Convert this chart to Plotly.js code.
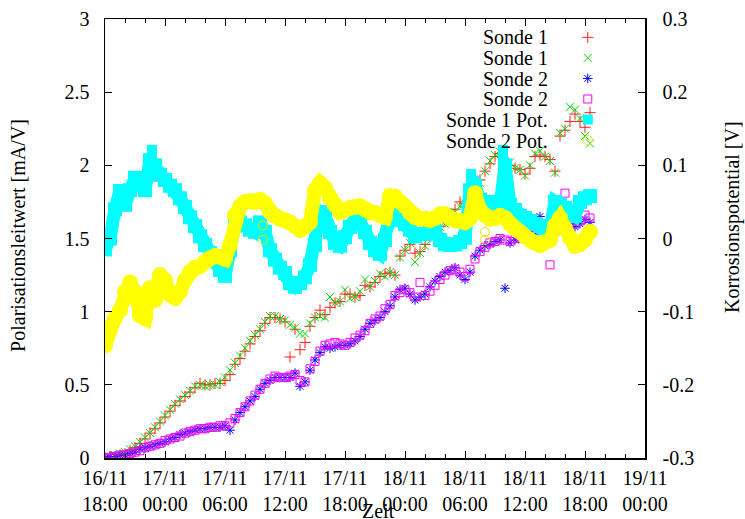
<!DOCTYPE html>
<html><head><meta charset="utf-8">
<script src="https://cdn.plot.ly/plotly-3.0.1.min.js"></script>
<style>html,body{margin:0;padding:0;background:#fff}#chart{width:745px;height:519px}</style>
</head><body><div id="chart"></div>
<script>
// Sampling grid: start time and step (minutes)
const startUTC = Date.UTC(2010, 10, 16, 18, 0);
const endUTC = Date.UTC(2010, 10, 19, 0, 0);
const stepMinutes = 30;

// Polarisationsleitwert [mA/V]
const sonde1Red = [0.00,0.01,0.01,0.02,0.03,0.05,0.07,0.10,0.13,0.17,
 0.20,0.24,0.28,0.32,0.36,0.39,0.42,0.45,0.48,0.51,
 0.50,0.50,0.51,0.51,0.53,0.57,0.64,0.68,0.73,0.78,
 0.83,0.87,0.92,0.96,0.96,0.95,0.93,0.69,0.88,0.74,
 0.79,0.90,0.96,1.01,0.98,1.03,1.06,1.07,1.12,1.12,
 1.10,1.11,1.18,1.17,1.20,1.24,1.26,1.27,1.25,1.38,
 1.42,1.46,1.40,1.41,1.46,1.51,1.55,1.58,1.62,1.65,
 1.70,1.75,1.74,1.78,1.82,1.90,1.96,2.01,2.06,2.08,
 1.90,2.00,1.98,1.97,1.94,1.98,2.06,2.07,2.06,2.04,
 1.96,2.20,2.24,2.30,2.35,2.30,2.26,2.36];
const sonde1Green = [0.00,0.01,0.02,0.03,0.04,0.06,0.08,0.11,0.14,0.17,
 0.21,0.25,0.29,0.33,0.37,0.40,0.43,0.46,0.49,0.50,
 0.49,0.50,0.50,0.52,0.55,0.60,0.65,0.70,0.75,0.80,
 0.84,0.88,0.93,0.97,0.97,0.95,0.94,0.91,0.89,0.85,
 0.85,0.92,0.96,0.97,0.96,1.10,1.06,1.07,1.15,1.09,
 1.10,1.14,1.22,1.17,1.21,1.26,1.24,1.27,1.25,1.37,
 1.42,1.47,1.34,1.40,1.45,1.51,1.56,1.58,1.60,1.64,
 1.68,1.72,1.74,1.78,1.80,1.88,1.96,2.03,2.07,2.09,
 2.03,2.02,1.98,1.97,1.93,2.00,2.08,2.10,2.06,2.03,
 1.95,2.22,2.25,2.40,2.38,2.32,2.20,2.15];
const sonde2Blue = [0.00,0.01,0.01,0.02,0.02,0.03,0.04,0.06,0.07,0.08,
 0.09,0.10,0.11,0.13,0.14,0.16,0.17,0.18,0.19,0.20,
 0.20,0.21,0.21,0.21,0.22,0.19,0.26,0.31,0.35,0.39,
 0.42,0.47,0.51,0.53,0.55,0.55,0.55,0.55,0.58,0.49,
 0.52,0.60,0.67,0.72,0.76,0.75,0.76,0.77,0.77,0.78,
 0.80,0.83,0.88,0.92,0.94,0.96,1.00,1.04,1.10,1.15,
 1.16,1.12,1.08,1.10,1.12,1.17,1.21,1.24,1.27,1.28,
 1.30,1.25,1.22,1.27,1.38,1.42,1.45,1.46,1.48,1.49,
 1.16,1.47,1.49,1.50,1.51,1.52,1.53,1.65,1.60,1.55,
 1.56,1.58,1.60,1.60,1.58,1.60,1.63,1.61];
const sonde2Magenta = [0.00,0.00,0.01,0.02,0.02,0.03,0.04,0.05,0.07,0.08,
 0.09,0.10,0.12,0.13,0.14,0.15,0.17,0.18,0.19,0.20,
 0.20,0.21,0.21,0.22,0.22,0.24,0.27,0.31,0.35,0.39,
 0.43,0.47,0.51,0.54,0.56,0.55,0.55,0.56,0.57,0.53,
 0.52,0.61,0.66,0.73,0.77,0.78,0.79,0.78,0.77,0.79,
 0.82,0.84,0.87,0.92,0.95,0.97,1.02,1.05,1.11,1.13,
 1.15,1.13,1.10,1.20,1.11,1.14,1.18,1.22,1.25,1.28,
 1.29,1.27,1.24,1.29,1.36,1.41,1.44,1.47,1.48,1.50,
 1.49,1.48,1.50,1.51,1.52,1.52,1.54,1.57,1.60,1.32,
 1.55,1.57,1.81,1.62,1.60,1.62,1.66,1.64];

// Korrosionspotential [V]
const sonde1Pot = [-0.015,0.000,0.040,0.065,0.046,0.066,0.083,0.073,0.066,0.107,
 0.100,0.087,0.080,0.072,0.066,0.055,0.043,0.029,0.017,0.003,
 -0.009,-0.020,-0.031,-0.043,-0.051,-0.016,0.018,0.022,0.018,0.012,
 0.009,0.022,0.009,-0.016,-0.029,-0.040,-0.047,-0.061,-0.066,-0.061,
 -0.053,-0.036,-0.009,0.036,0.031,0.009,-0.006,-0.010,0.002,0.016,
 0.028,0.022,0.009,-0.006,-0.016,-0.021,-0.002,0.028,0.033,0.025,
 0.020,0.012,0.003,0.006,0.006,0.010,0.009,-0.002,-0.008,-0.009,
 -0.008,-0.005,0.001,0.066,0.072,0.053,0.048,0.050,0.046,0.043,
 0.100,0.046,0.039,0.031,0.028,0.024,0.020,0.017,0.014,0.012,
 0.050,0.046,0.042,0.033,0.031,0.050,0.055,0.058];
const sonde1PotSpikeHours = [4.7, 4.7, 36.6, 36.6, 39.8, 39.8, 39.8, 39.8];
const sonde1PotSpikeValues = [0.121, 0.110, 0.088, 0.076, 0.121, 0.108, 0.095, 0.082];
const sonde2Pot = [-0.146,-0.121,-0.109,-0.098,-0.073,-0.060,-0.073,-0.105,-0.109,-0.068,
 -0.084,-0.050,-0.057,-0.077,-0.081,-0.073,-0.057,-0.046,-0.040,-0.038,
 -0.032,-0.027,-0.024,-0.025,-0.028,-0.009,0.032,0.044,0.050,0.051,
 0.050,0.053,0.048,0.036,0.031,0.027,0.025,0.022,0.017,0.012,
 0.016,0.022,0.066,0.076,0.069,0.055,0.046,0.036,0.039,0.042,
 0.043,0.044,0.040,0.036,0.035,0.032,0.029,0.058,0.057,0.050,
 0.044,0.035,0.029,0.027,0.027,0.025,0.028,0.033,0.033,0.028,
 0.025,0.024,0.022,0.028,0.062,0.039,0.032,0.027,0.028,0.031,
 0.028,0.020,0.014,0.009,0.003,-0.002,-0.006,-0.009,-0.005,-0.002,
 0.018,0.028,0.014,0.001,-0.010,-0.008,-0.002,0.009];
const sonde2PotOpenHours = [15.8, 15.8, 38.0, 38.0];
const sonde2PotOpenValues = [0.018, -0.002, 0.009, -0.002];

// Labels
const legendLabels = ['Sonde 1', 'Sonde 1', 'Sonde 2', 'Sonde 2', 'Sonde 1 Pot.', 'Sonde 2 Pot.'];
const y2TickValues = [-0.3, -0.2, -0.1, 0, 0.1, 0.2, 0.3];
const y2TickLabels = ['-0.3', '-0.2', '-0.1', '0', '0.1', '0.2', '0.3'];

const HOUR = 3600000;
const toStr = ms => new Date(ms).toISOString().slice(0, 19).replace('T', ' ');
const times = sonde1Red.map((_, i) => toStr(startUTC + i * stepMinutes * 60000));
const hoursToStr = h => toStr(startUTC + h * HOUR);

const FONT = 'Liberation Serif';

function pts(y, symbol, size, color, extra) {
  return Object.assign({
    type: 'scatter', mode: 'markers', x: times, y: y, name: ' ',
    marker: { symbol: symbol, size: size, color: color, line: { color: color, width: 1 } },
    hoverinfo: 'skip'
  }, extra || {});
}

const traces = [
  pts(sonde1Red, 'cross-thin-open', 8, '#ff2020'),
  pts(sonde1Green, 'x-thin-open', 8, '#00dd00'),
  pts(sonde2Blue, 'asterisk-open', 8, '#0000ff'),
  pts(sonde2Magenta, 'square-open', 8, '#ff00ff'),
  {
    type: 'scatter', mode: 'lines+markers', name: ' ', yaxis: 'y2', hoverinfo: 'skip', showlegend: false,
    x: times, y: sonde1Pot,
    line: { color: '#00ffff', width: 13 },
    marker: { symbol: 'square', size: 14, color: '#00ffff', line: { width: 0 } }
  },
  {
    type: 'scatter', mode: 'markers', name: ' ', yaxis: 'y2', hoverinfo: 'skip',
    x: sonde1PotSpikeHours.map(hoursToStr), y: sonde1PotSpikeValues,
    marker: { symbol: 'square', size: 10, color: '#00ffff', line: { width: 0 } }
  },
  {
    type: 'scatter', mode: 'lines+markers', name: ' ', yaxis: 'y2', hoverinfo: 'skip', showlegend: false,
    x: times, y: sonde2Pot,
    line: { color: '#ffff00', width: 14 },
    marker: { symbol: 'circle', size: 16, color: '#ffff00', line: { width: 0 } }
  },
  {
    type: 'scatter', mode: 'markers', name: ' ', yaxis: 'y2', hoverinfo: 'skip',
    x: sonde2PotOpenHours.map(hoursToStr), y: sonde2PotOpenValues,
    marker: { symbol: 'circle-open', size: 9, color: '#e6e600', line: { color: '#e6e600', width: 1 } }
  }
];

const tickFont = { family: FONT, size: 20, color: '#000' };
const rowY = [0.959, 0.911, 0.864, 0.817, 0.770, 0.723];
const annotations = legendLabels.map((t, i) => ({
  text: t, xref: 'paper', yref: 'paper', x: 0.824, y: rowY[i],
  xanchor: 'right', yanchor: 'middle', showarrow: false, font: tickFont
})).concat([
  { text: 'Zeit', xref: 'paper', yref: 'paper', x: 0.506, y: -0.12, xanchor: 'center', yanchor: 'middle', showarrow: false, font: tickFont },
  { text: 'Polarisationsleitwert [mA/V]', xref: 'paper', yref: 'paper', x: -0.161, y: 0.506, xanchor: 'center', yanchor: 'middle', textangle: -90, showarrow: false, font: tickFont },
  { text: 'Korrosionspotential [V]', xref: 'paper', yref: 'paper', x: 1.163, y: 0.549, xanchor: 'center', yanchor: 'middle', textangle: -90, showarrow: false, font: tickFont }
]);

const layout = {
  width: 745, height: 519,
  margin: { l: 105, r: 100, t: 19, b: 61 },
  paper_bgcolor: '#fff', plot_bgcolor: '#fff',
  font: { family: FONT, size: 20, color: '#000' },
  showlegend: true,
  legend: { x: 0.857, y: 0.993, xanchor: 'left', yanchor: 'top', bgcolor: 'rgba(0,0,0,0)',
            font: { family: FONT, size: 13.5 }, tracegroupgap: 0, itemsizing: 'trace' },
  xaxis: {
    type: 'date', range: [toStr(startUTC), toStr(endUTC)],
    tick0: toStr(startUTC), dtick: 6 * HOUR, tickformat: '%d/%m<br>%H:%M',
    ticks: 'inside', ticklen: 7, tickwidth: 1, tickcolor: '#000',
    minor: { dtick: 2 * HOUR, ticks: 'inside', ticklen: 4, tickcolor: '#000', tickwidth: 1, showgrid: false },
    showline: true, linecolor: '#000', linewidth: 1.5, mirror: 'ticks',
    showgrid: false, zeroline: false, tickfont: tickFont, ticklabelstandoff: 1
  },
  yaxis: {
    range: [0, 3], dtick: 0.5, tick0: 0,
    ticks: 'inside', ticklen: 7, tickwidth: 1, tickcolor: '#000',
    showline: true, linecolor: '#000', linewidth: 1.5, mirror: true,
    showgrid: false, zeroline: false, tickfont: tickFont, ticklabelstandoff: 10
  },
  yaxis2: {
    overlaying: 'y', side: 'right', range: [-0.3, 0.3],
    tickmode: 'array', tickvals: y2TickValues, ticktext: y2TickLabels,
    ticks: 'inside', ticklen: 7, tickwidth: 1, tickcolor: '#000',
    showline: true, linecolor: '#000', linewidth: 1.5,
    showgrid: false, zeroline: false, tickfont: tickFont, ticklabelstandoff: 12
  },
  annotations: annotations
};

Plotly.newPlot('chart', traces, layout, { staticPlot: true, displayModeBar: false });
</script>
</body></html>
